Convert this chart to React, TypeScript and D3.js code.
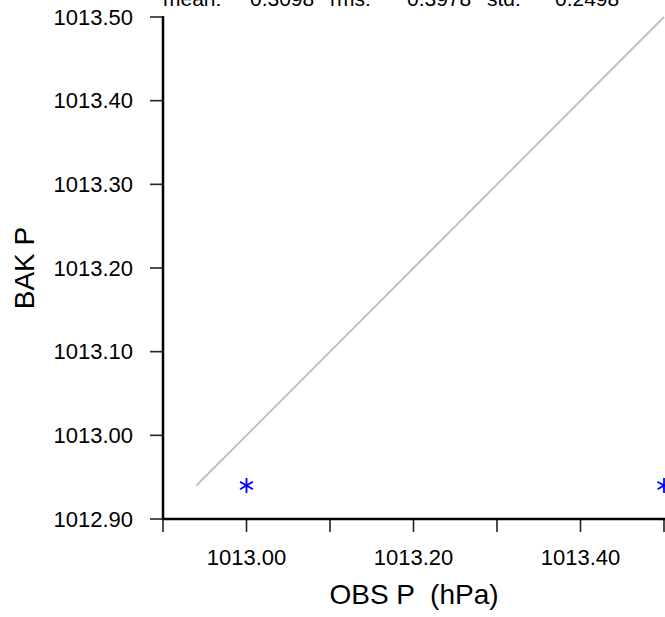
import * as d3 from 'd3'
import React from 'react'

// observation vs background pressure pairs (hPa)
const obsP = [1013.0, 1013.5]
const bakP = [1012.94, 1012.94]
const oneToOne = [1012.94, 1013.5]

const xTicks = [1012.9, 1013.0, 1013.1, 1013.2, 1013.3, 1013.4, 1013.5]
const xLabels = [1013.0, 1013.2, 1013.4]
const yTicks = [1012.9, 1013.0, 1013.1, 1013.2, 1013.3, 1013.4, 1013.5]

const statNames = ['mean:', 'rms:', 'std:']
const statValues = ['0.3098', '0.3978', '0.2498']

const W = 665, H = 617
const font = 'Liberation Sans, Arial, Helvetica, sans-serif'

const Star = ({ x, y, r }: { x: number, y: number, r: number }) => {
  const arms = [90, 30, -30].map(a => {
    const t = (a * Math.PI) / 180, dx = r * Math.cos(t), dy = r * Math.sin(t)
    return `M${x - dx},${y + dy}L${x + dx},${y - dy}`
  })
  return <path d={arms.join('')} stroke='#0000ff' strokeWidth='1.8' fill='none' />
}

export default function App() {
  const
    sx = d3.scaleLinear().domain([1012.9, 1013.5]).range([163, 664]),
    sy = d3.scaleLinear().domain([1012.9, 1013.5]).range([519, 17]),
    diag = d3.line<number>().x(d => sx(d)).y(d => sy(d))

  const statX = [163, 250, 330, 407, 487, 555]

  return (
    <svg width={W} height={H} style={{ position: 'absolute', left: 0, top: 0, background: '#fff' }}>
      {/* stats line, partly cut off at top */}
      <g fontFamily={font} fontSize='21' fill='#000'>
        {statNames.map((n, i) => (
          <React.Fragment key={n}>
            <text x={statX[i * 2]} y={6}>{n}</text>
            <text x={statX[i * 2 + 1]} y={6}>{statValues[i]}</text>
          </React.Fragment>
        ))}
      </g>

      <path d={diag(oneToOne) as string} stroke='#c0c0c0' strokeWidth='2' fill='none' />

      {obsP.map((o, i) => <Star key={i} x={sx(o)} y={sy(bakP[i])} r={7.5} />)}

      {/* ticks */}
      <g stroke='#222' strokeWidth='1.6'>
        {yTicks.map(t => <line key={t} x1={150} x2={163} y1={sy(t)} y2={sy(t)} />)}
        {xTicks.map(t => <line key={t} x1={sx(t)} x2={sx(t)} y1={519} y2={532} />)}
      </g>

      {/* axis lines */}
      <g stroke='#000' strokeWidth='2.5' fill='none'>
        <line x1={163} x2={163} y1={sy(1013.5) - 1} y2={520} />
        <line x1={162} x2={W} y1={519} y2={519} />
      </g>

      <g fontFamily={font} fontSize='22' fill='#000'>
        {yTicks.map(t => (
          <text key={t} x={133} y={sy(t)} textAnchor='end' dominantBaseline='central'>{t.toFixed(2)}</text>
        ))}
        {xLabels.map(t => (
          <text key={t} x={sx(t)} y={565} textAnchor='middle'>{t.toFixed(2)}</text>
        ))}
      </g>

      <g fontFamily={font} fontSize='28' fill='#000'>
        <text x={414} y={604} textAnchor='middle' xmlSpace='preserve'>OBS P  (hPa)</text>
        <text transform={`translate(34,268) rotate(-90)`} textAnchor='middle'>BAK P</text>
      </g>
    </svg>
  )
}
